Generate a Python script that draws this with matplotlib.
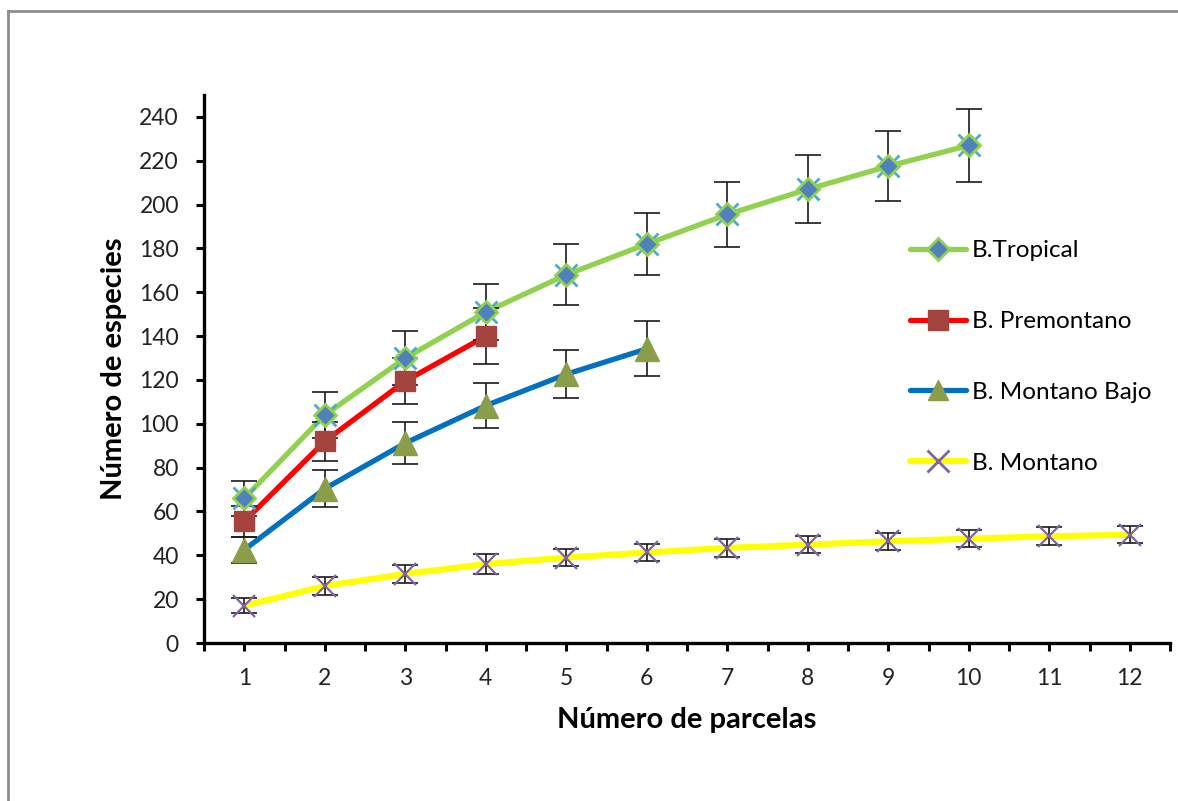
import matplotlib
matplotlib.use("Agg")
import matplotlib.pyplot as plt
from matplotlib.lines import Line2D
import numpy as np

plt.rcParams['font.family'] = ['Lato', 'DejaVu Sans']

# Data
parcelas = [1, 2, 3, 4, 5, 6, 7, 8, 9, 10, 11, 12]
tick_labels = [str(p) for p in parcelas]

tropical = [66, 104, 130, 151, 168, 182, 195.5, 207, 217.5, 227]
tropical_err = [8, 10.5, 12.4, 12.6, 14, 14.2, 14.8, 15.4, 16, 16.6]

premontano = [55.5, 92, 119.5, 140]
premontano_err = [7, 8.8, 10.5, 12.7]

montano_bajo = [42.5, 70.4, 91.2, 108.3, 122.6, 134.2]
montano_bajo_err = [6, 8.4, 9.5, 10.4, 11, 12.5]

montano = [17, 26, 31.5, 36, 39, 41.3, 43.4, 44.9, 46.4, 47.6, 48.7, 49.4]
montano_err = [3.5, 4.2, 4.3, 4.4, 4, 4, 4, 4, 4, 4, 4, 4]

labels = ['B.Tropical', 'B. Premontano', 'B. Montano Bajo', 'B. Montano']

fig = plt.figure(figsize=(11.78, 8.01), dpi=100)
ax = fig.add_axes([204/1178, 1-643/801, (1170-204)/1178, (643-95)/801])

# outer chart frame (left and top visible)
fig.add_artist(Line2D([8/1178, 8/1178], [0, 1-11/801], transform=fig.transFigure,
                      color='#8c8c8c', lw=2))
fig.add_artist(Line2D([8/1178, 1], [1-11/801, 1-11/801], transform=fig.transFigure,
                      color='#8c8c8c', lw=2))

series = [
    (tropical, tropical_err, '#92D050', 'D', '#4F81BD', '#92D050', 11, 3.8),
    (premontano, premontano_err, '#FF0000', 's', '#A5443F', '#A5443F', 15, 3.8),
    (montano_bajo, montano_bajo_err, '#0070C0', '^', '#8A9E4A', '#8A9E4A', 17, 3.8),
    (montano, montano_err, '#FFFF00', 'x', '#8064A2', '#8064A2', 16, 4.4),
]

handles = []
for (vals, errs, lc, mk, mfc, mec, ms, lw), lab in zip(series, labels):
    x = parcelas[:len(vals)]
    ax.plot(x, vals, color=lc, lw=lw, zorder=2, solid_capstyle='round')
    ax.errorbar(x, vals, yerr=errs, fmt='none', ecolor='#1a1a1a', elinewidth=1.2,
                capsize=9.5, capthick=1.2, zorder=3)
    if mk == 'D':
        ax.plot(x, vals, ls='none', marker='x', ms=16, mew=2, color='#4BACC6', zorder=3.5)
        ax.plot(x, vals, ls='none', marker='D', ms=ms, mfc=mfc, mec=mec, mew=2, zorder=4)
    elif mk == 'x':
        ax.plot(x, vals, ls='none', marker='x', ms=ms, mew=1.6, color=mfc, zorder=4)
    else:
        ax.plot(x, vals, ls='none', marker=mk, ms=ms, mfc=mfc, mec=mec, mew=1, zorder=4)
    handles.append(Line2D([], [], color=lc, lw=lw, marker=mk, ms=ms if mk != '^' else 15,
                          mfc=mfc, mec=mec, mew=2 if mk in 'Dx' else 1,
                          solid_capstyle='round'))

ax.set_xlim(0.5, 12.5)
ax.set_ylim(0, 250)
ax.set_xticks(parcelas)
ax.set_xticklabels(tick_labels)
ax.set_xticks(np.arange(0.5, 12.6, 1.0), minor=True)
ax.set_yticks(np.arange(0, 241, 20))

for s in ['top', 'right']:
    ax.spines[s].set_visible(False)
for s in ['left', 'bottom']:
    ax.spines[s].set_linewidth(2.4)
    ax.spines[s].set_color('black')

ax.tick_params(axis='both', which='both', direction='out', length=6, width=2.2,
               color='black', labelsize=16.5, labelcolor='#222222', pad=12)
ax.tick_params(axis='x', which='minor', length=6, width=2.2)

ax.set_xlabel('Número de parcelas', fontsize=21, fontweight='bold', labelpad=13)
ax.set_ylabel('Número de especies', fontsize=21, fontweight='bold', labelpad=9)

fig.legend(handles=handles, labels=labels, loc='center left',
           bbox_to_anchor=(910/1178, 1-357/801), frameon=False,
           fontsize=17.5, handlelength=2.3, handletextpad=0.25, labelspacing=2.05,
           borderpad=0, borderaxespad=0)

fig.savefig('out.png', dpi=100, facecolor='white')
